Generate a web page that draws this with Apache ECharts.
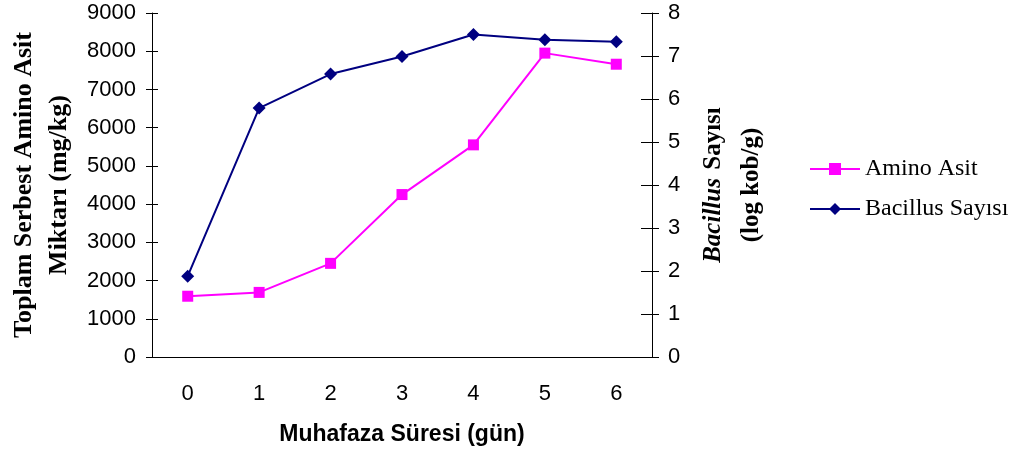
<!DOCTYPE html>
<html>
<head>
<meta charset="utf-8">
<script src="https://cdn.jsdelivr.net/npm/echarts@6/dist/echarts.min.js"></script>
<style>
  html, body { margin: 0; padding: 0; background: #fff; }
  #chart { width: 1029px; height: 454px; }
</style>
</head>
<body>
<div id="chart"></div>
<script>
// Storage time (days)
const days = ['0', '1', '2', '3', '4', '5', '6'];
// Total free amino acid content (mg/kg)
const aminoAsit = [1590, 1690, 2450, 4250, 5550, 7950, 7660];
// Bacillus count (log cfu/g)
const bacillusSayisi = [1.88, 5.79, 6.58, 6.99, 7.50, 7.38, 7.33];

const leftTicks = { min: 0, max: 9000, interval: 1000 };
const rightTicks = { min: 0, max: 8, interval: 1 };

const sans = '"Liberation Sans", Arial, sans-serif';
const serif = '"Liberation Serif", "Times New Roman", serif';
const axisColor = '#000';

const chart = echarts.init(document.getElementById('chart'), null, { renderer: 'canvas' });

const labelStyle = { color: '#000', fontFamily: sans, fontSize: 22, formatter: v => String(v) };

chart.setOption({
  animation: false,
  backgroundColor: '#fff',
  grid: { left: 152, right: 377, top: 13, bottom: 97, containLabel: false, outerBoundsMode: 'none' },
  legend: {
    orient: 'vertical',
    left: 804,
    top: 152,
    padding: 5,
    itemWidth: 50,
    itemHeight: 15,
    itemGap: 16,
    textStyle: { fontFamily: serif, fontSize: 24, color: '#000' },
    data: ['Amino Asit', 'Bacillus Sayısı']
  },
  xAxis: [
    {
      type: 'category',
      data: days,
      boundaryGap: true,
      axisLine: { lineStyle: { color: axisColor, width: 1 } },
      axisTick: { inside: false, length: 8, lineStyle: { color: axisColor } },
      axisLabel: Object.assign({ margin: 26 }, labelStyle),
      name: 'Muhafaza Süresi (gün)',
      nameLocation: 'middle',
      nameGap: 66,
      nameTextStyle: { fontFamily: sans, fontSize: 23, fontWeight: 'bold', color: '#000' }
    },
    {
      // inner half of the crossing tick marks
      type: 'category',
      data: days,
      position: 'bottom',
      axisLine: { show: false },
      axisTick: { inside: true, length: 6, lineStyle: { color: axisColor } },
      axisLabel: { show: false }
    }
  ],
  yAxis: [
    Object.assign({
      type: 'value',
      position: 'left',
      splitLine: { show: false },
      axisLine: { show: true, lineStyle: { color: axisColor, width: 1 } },
      axisTick: { show: true, inside: false, length: 6, lineStyle: { color: axisColor } },
      axisLabel: Object.assign({ margin: 16 }, labelStyle),
      name: 'Toplam Serbest Amino Asit\nMiktarı (mg/kg)',
      nameLocation: 'middle',
      nameRotate: 90,
      nameGap: 75,
      nameTextStyle: { fontFamily: serif, fontSize: 26, fontWeight: 'bold', color: '#000', lineHeight: 35, align: 'center' }
    }, leftTicks),
    Object.assign({
      type: 'value',
      position: 'right',
      splitLine: { show: false },
      axisLine: { show: true, lineStyle: { color: axisColor, width: 1 } },
      axisTick: { show: true, inside: false, length: 7, lineStyle: { color: axisColor } },
      axisLabel: Object.assign({ margin: 16 }, labelStyle),
      name: '{bi|Bacillus} {b|Sayısı}\n{b|(log kob/g)}',
      nameLocation: 'middle',
      nameRotate: 90,
      nameGap: 43,
      nameTextStyle: {
        align: 'center',
        lineHeight: 38,
        rich: {
          bi: { fontFamily: serif, fontSize: 25, fontWeight: 'bold', fontStyle: 'italic', color: '#000', lineHeight: 38, padding: [0, 5, 0, 0] },
          b: { fontFamily: serif, fontSize: 25, fontWeight: 'bold', color: '#000', lineHeight: 38 }
        }
      }
    }, rightTicks),
    Object.assign({
      type: 'value',
      position: 'left',
      splitLine: { show: false },
      axisLine: { show: false },
      axisTick: { show: true, inside: true, length: 6, lineStyle: { color: axisColor } },
      axisLabel: { show: false }
    }, leftTicks),
    Object.assign({
      type: 'value',
      position: 'right',
      splitLine: { show: false },
      axisLine: { show: false },
      axisTick: { show: true, inside: true, length: 11, lineStyle: { color: axisColor } },
      axisLabel: { show: false }
    }, rightTicks)
  ],
  series: [
    {
      name: 'Amino Asit',
      type: 'line',
      xAxisIndex: 0,
      yAxisIndex: 0,
      data: aminoAsit,
      symbol: 'rect',
      symbolSize: 11,
      lineStyle: { color: '#FF00FF', width: 2 },
      itemStyle: { color: '#FF00FF', borderWidth: 0 },
      z: 3
    },
    {
      name: 'Bacillus Sayısı',
      type: 'line',
      xAxisIndex: 0,
      yAxisIndex: 1,
      data: bacillusSayisi,
      symbol: 'diamond',
      symbolSize: 13,
      lineStyle: { color: '#000080', width: 2 },
      itemStyle: { color: '#000080', borderWidth: 0 },
      z: 4
    }
  ]
});
</script>
</body>
</html>
